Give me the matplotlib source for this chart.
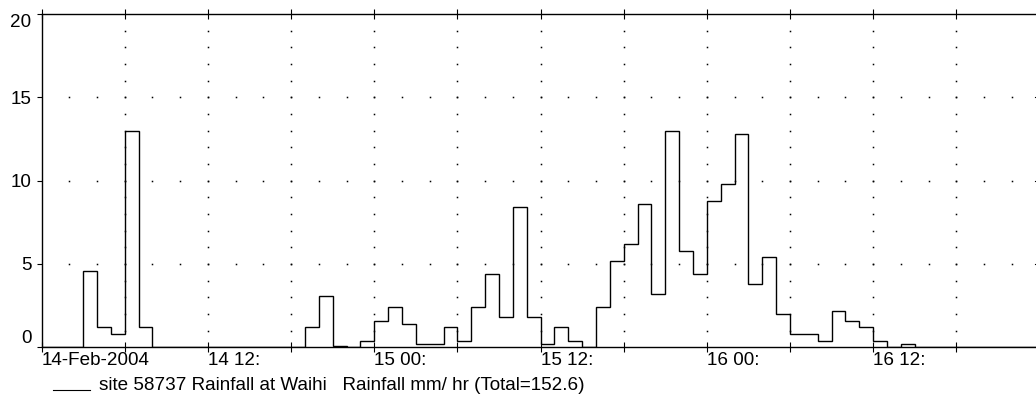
import numpy as np
import matplotlib
matplotlib.use("Agg")
import matplotlib.pyplot as plt
from matplotlib.lines import Line2D

plt.rcParams['font.family'] = ['Liberation Sans', 'DejaVu Sans']

# ---- data: hourly rainfall (mm/hr) starting 14-Feb-2004 00:00 ----
rain_mm_hr = [
    0.0, 0.0, 0.0, 4.6, 1.2, 0.8, 13.0, 1.2, 0.0, 0.0, 0.0, 0.0,      # 14 00-11
    0.0, 0.0, 0.0, 0.0, 0.0, 0.0, 0.0, 1.2, 3.1, 0.1, 0.0, 0.4,       # 14 12-23
    1.6, 2.4, 1.4, 0.2, 0.2, 1.2, 0.4, 2.4, 4.4, 1.8, 8.4, 1.8,       # 15 00-11
    0.2, 1.2, 0.4, 0.0, 2.4, 5.2, 6.2, 8.6, 3.2, 13.0, 5.8, 4.4,      # 15 12-23
    8.8, 9.8, 12.8, 3.8, 5.4, 2.0, 0.8, 0.8, 0.4, 2.2, 1.6, 1.2,      # 16 00-11
    0.4, 0.0, 0.2, 0.0, 0.0, 0.0, 0.0, 0.0, 0.0, 0.0, 0.0, 0.0,       # 16 12-23
]
hour_edges = list(range(len(rain_mm_hr) + 1))

x_tick_hours = [0, 6, 12, 18, 24, 30, 36, 42, 48, 54, 60, 66]
x_tick_labels = ["14-Feb-2004", "", "14 12:", "", "15 00:", "", "15 12:", "",
                 "16 00:", "", "16 12:", ""]
y_ticks = [0, 5, 10, 15, 20]
y_tick_labels = ["0", "5", "10", "15", "20"]
legend_label = "site 58737 Rainfall at Waihi   Rainfall mm/ hr (Total=152.6)"

FS = 13.6
W, H = 1036, 398
fig = plt.figure(figsize=(W / 100, H / 100), dpi=100)
px = 13.86  # pixels per hour
left_px, bottom_px, top_px = 41.6, 347.3, 14.0
ax = fig.add_axes([left_px / W, 1 - bottom_px / H,
                   72 * px / W, (bottom_px - top_px) / H])

ax.set_xlim(0, 72)
ax.set_ylim(0, 20)

# dotted grid (single-pixel dots)
gx = np.arange(6, 72, 6)
gy = np.arange(1, 20, 1)
XX, YY = np.meshgrid(gx, gy)
ax.plot(XX.ravel(), YY.ravel(), linestyle='none', marker='s', ms=1.1,
        mew=0, color='black', zorder=1)
hx = np.arange(2, 72, 2)
hy = np.array([5, 10, 15])
XX2, YY2 = np.meshgrid(hx, hy)
ax.plot(XX2.ravel(), YY2.ravel(), linestyle='none', marker='s', ms=1.1,
        mew=0, color='black', zorder=1)

# step line
ax.stairs(rain_mm_hr, hour_edges, color='black', lw=1.0, zorder=3)

# spines
for s in ['left', 'top', 'bottom']:
    ax.spines[s].set_linewidth(1.0)
    ax.spines[s].set_color('black')
ax.spines['right'].set_visible(False)

ax.set_xticks(x_tick_hours)
ax.set_xticklabels(x_tick_labels, ha='left', fontsize=FS)
ax.tick_params(axis='x', which='major', direction='inout', length=7.2,
               width=0.8, top=True, bottom=True, pad=0, color='black')
ax.set_yticks(y_ticks)
ax.set_yticklabels(y_tick_labels, fontsize=FS)
ax.tick_params(axis='y', which='major', direction='out', length=3.8,
               width=0.8, left=True, right=False, pad=3.5, color='black')

# small inward marks on the right edge
for yv in y_ticks[1:-1]:
    ax.plot([71.7, 72], [yv, yv], color='black', lw=0.8, clip_on=False)

yt = ax.yaxis.get_major_ticks()
yt[0].label1.set_verticalalignment('bottom')
yt[-1].label1.set_verticalalignment('top')

# legend (drawn manually: short line at baseline, then text)
ly = 1 - 389.5 / H
fig.add_artist(Line2D([52.7 / W, 89.5 / W], [ly, ly], color='black', lw=0.8,
                      transform=fig.transFigure))
fig.text(99.3 / W, ly, legend_label, fontsize=FS, ha='left', va='baseline')

fig.savefig("out.png", dpi=100)
